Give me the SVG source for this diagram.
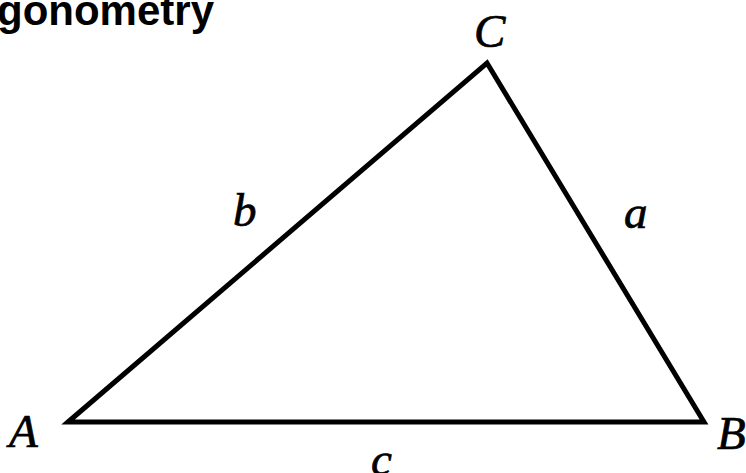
<svg xmlns="http://www.w3.org/2000/svg" width="746" height="473" viewBox="0 0 746 473">
<style>
.title{font-family:"Liberation Sans",Arial,sans-serif;font-weight:bold;font-size:42px;fill:#000}
.lbl{font-family:"Liberation Serif","Times New Roman",serif;font-style:italic;font-size:47px;fill:#000;stroke:#000;stroke-width:0.7}
.edge{fill:none;stroke:#000;stroke-width:5;stroke-linejoin:miter;stroke-miterlimit:10}
</style>
<rect width="746" height="473" fill="#fff"/>
<text class="title" x="-3" y="25">gonometry</text>
<g id="connectors">
<polygon class="edge" points="68,422 487,63 704,422"/>
</g>
<g id="node-A"><text class="lbl" x="9" y="447">A</text></g>
<g id="node-B"><text class="lbl" x="717" y="449">B</text></g>
<g id="node-C"><text class="lbl" x="474" y="47">C</text></g>
<g id="label-a"><text class="lbl" x="624" y="228">a</text></g>
<g id="label-b"><text class="lbl" x="233" y="226">b</text></g>
<g id="label-c"><text class="lbl" x="371" y="475">c</text></g>
</svg>
